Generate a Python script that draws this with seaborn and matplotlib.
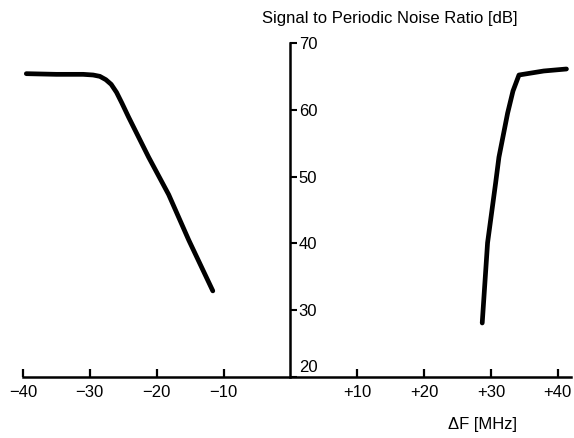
import matplotlib
matplotlib.use("Agg")
import matplotlib.pyplot as plt
import matplotlib.transforms as mtransforms
import seaborn as sns
import pandas as pd

# Data
left_df = [-39.5, -35.0, -31.0, -29.5, -28.5, -27.6, -26.8, -26.0, -25.2, -24.2, -21.2, -18.2, -15.2, -11.6]
left_snr = [65.4, 65.3, 65.3, 65.2, 65.0, 64.5, 63.8, 62.6, 61.0, 58.9, 52.9, 47.3, 40.5, 32.9]
right_df = [28.7, 29.5, 30.7, 31.2, 32.5, 33.3, 34.2, 37.9, 41.3]
right_snr = [28.1, 40.1, 49.0, 52.9, 59.5, 62.8, 65.2, 65.8, 66.1]

xticks = [-40, -30, -20, -10, 10, 20, 30, 40]
xticklabels = ["\u221240", "\u221230", "\u221220", "\u221210", "+10", "+20", "+30", "+40"]
yticks = [20, 30, 40, 50, 60, 70]
yticklabels = ["20", "30", "40", "50", "60", "70"]

sns.set_theme(style="white")
plt.rcParams["font.family"] = ["Liberation Sans", "DejaVu Sans"]

fig = plt.figure(figsize=(5.74, 4.38), dpi=100)
ax = fig.add_axes([0.040, 0.139, 0.955, 0.763])

ldf = pd.DataFrame({"df": left_df, "snr": left_snr})
rdf = pd.DataFrame({"df": right_df, "snr": right_snr})
sns.lineplot(data=ldf, x="df", y="snr", ax=ax, color="black", lw=3.4, sort=False,
             solid_capstyle="round", solid_joinstyle="round")
sns.lineplot(data=rdf, x="df", y="snr", ax=ax, color="black", lw=3.4, sort=False,
             solid_capstyle="round", solid_joinstyle="round")

ax.set_xlim(-40, 42)
ax.set_ylim(20, 70)

for s in ["top", "left"]:
    ax.spines[s].set_visible(False)
ax.spines["right"].set_position(("data", 0))
ax.spines["bottom"].set_position(("data", 20))
for s in ["right", "bottom"]:
    ax.spines[s].set_color("black")
    ax.spines[s].set_linewidth(1.8)

ax.yaxis.set_ticks_position("right")
ax.set_yticks(yticks)
ax.set_yticklabels(yticklabels)
ax.tick_params(axis="y", direction="out", length=5, width=1.5, pad=1,
               labelsize=12, colors="black", right=True, left=False,
               labelright=True, labelleft=False)
ax.set_xticks(xticks)
ax.set_xticklabels(xticklabels)
ax.tick_params(axis="x", direction="in", length=6, width=1.6, pad=6,
               labelsize=12, colors="black", bottom=True, top=False)

# lift the "20" label above the x axis
lab20 = ax.get_yticklabels()[0]
lab20.set_transform(lab20.get_transform() +
                    mtransforms.ScaledTranslation(0, 8 / 72, fig.dpi_scale_trans))

ax.set_xlabel("")
ax.set_ylabel("")
fig.text(390 / 574, 1 - 18 / 438, "Signal to Periodic Noise Ratio [dB]",
         ha="center", va="center", fontsize=12, color="black")
fig.text(483 / 574, 1 - 425 / 438, "\u0394F [MHz]",
         ha="center", va="center", fontsize=12, color="black")

fig.savefig("out.png", dpi=100)
